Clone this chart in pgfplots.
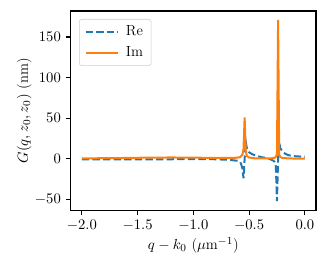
\documentclass[border=0pt]{standalone}
\usepackage{pgfplots}
\pgfplotsset{compat=1.18}
\definecolor{mplblue}{HTML}{1F77B4}
\definecolor{mplorange}{HTML}{FF7F0E}
\begin{document}
\fontsize{11}{13}\selectfont
\begin{tikzpicture}
\begin{axis}[
 scale only axis, width=184pt, height=149.8pt,
 at={(0,0)}, anchor=south west,
 xmin=-2.1, xmax=0.1, ymin=-64, ymax=182,
 xtick={-2,-1.5,-1,-0.5,0}, ytick={-50,0,50,100,150},
 xticklabel style={/pgf/number format/.cd,fixed,fixed zerofill,precision=1},
 tick align=outside, tick pos=left, major tick length=3.5pt,
 every tick/.style={black, line width=0.8pt},
 axis line style={line width=0.8pt},
 xlabel={$q-k_0$ ($\mu$m$^{-1}$)}, ylabel={$G(q,z_0,z_0)$ (nm)},
 xlabel shift=-3pt, ylabel shift=-5pt,
 legend style={at={(0.034,0.96)}, anchor=north west, draw=black!20, rounded corners=2pt, fill=white, inner xsep=4pt, inner ysep=3pt, row sep=2.5pt, column sep=3pt, font=\fontsize{11}{13}\selectfont},
 legend cell align=left,
 legend image code/.code={\draw[#1] (0pt,0pt) -- (24.5pt,0pt);},
 clip=true,
]
\addplot[mplblue, line width=1.5pt, dash pattern=on 5.55pt off 2.4pt] coordinates {
(-2.0,-0.8) (-1.5,-0.8) (-1.2,-0.6) (-1.0,-0.5) (-0.8,-0.6) (-0.7,-1.2) (-0.65,-1.8)
(-0.6,-2.5) (-0.58,-4) (-0.57,-7) (-0.56,-12) (-0.55,-24) (-0.54,0) (-0.53,21)
(-0.52,13) (-0.50,8) (-0.47,5.5) (-0.44,4) (-0.42,3) (-0.37,1.5) (-0.33,0.5)
(-0.30,-1.2) (-0.28,-2.5) (-0.27,-4) (-0.26,-9) (-0.25,-52) (-0.24,0) (-0.23,20)
(-0.22,13) (-0.20,9) (-0.18,6.5) (-0.15,4.5) (-0.10,3.2) (-0.05,2.8) (0.0,2.5)
};
\addlegendentry{Re}
\addplot[mplorange, line width=1.5pt] coordinates {
(-2.0,0.5) (-1.8,0.7) (-1.6,1.0) (-1.4,1.4) (-1.2,1.6) (-1.0,1.4) (-0.9,1.2)
(-0.8,1.0) (-0.7,1.0) (-0.62,1.2) (-0.58,2) (-0.56,5) (-0.55,12) (-0.54,51)
(-0.53,10) (-0.52,3.5) (-0.50,1.5) (-0.45,0.6) (-0.40,0.4) (-0.35,0.4) (-0.30,0.6)
(-0.27,1.2) (-0.26,2.5) (-0.25,6) (-0.24,171) (-0.23,5) (-0.22,2) (-0.20,1)
(-0.15,0.5) (-0.10,0.3) (-0.05,0.2) (0.0,0.2)
};
\addlegendentry{Im}
\end{axis}
\pgfresetboundingbox
\path (-53pt,-44.5pt) rectangle (192.25pt,158.05pt);
\end{tikzpicture}
\end{document}
